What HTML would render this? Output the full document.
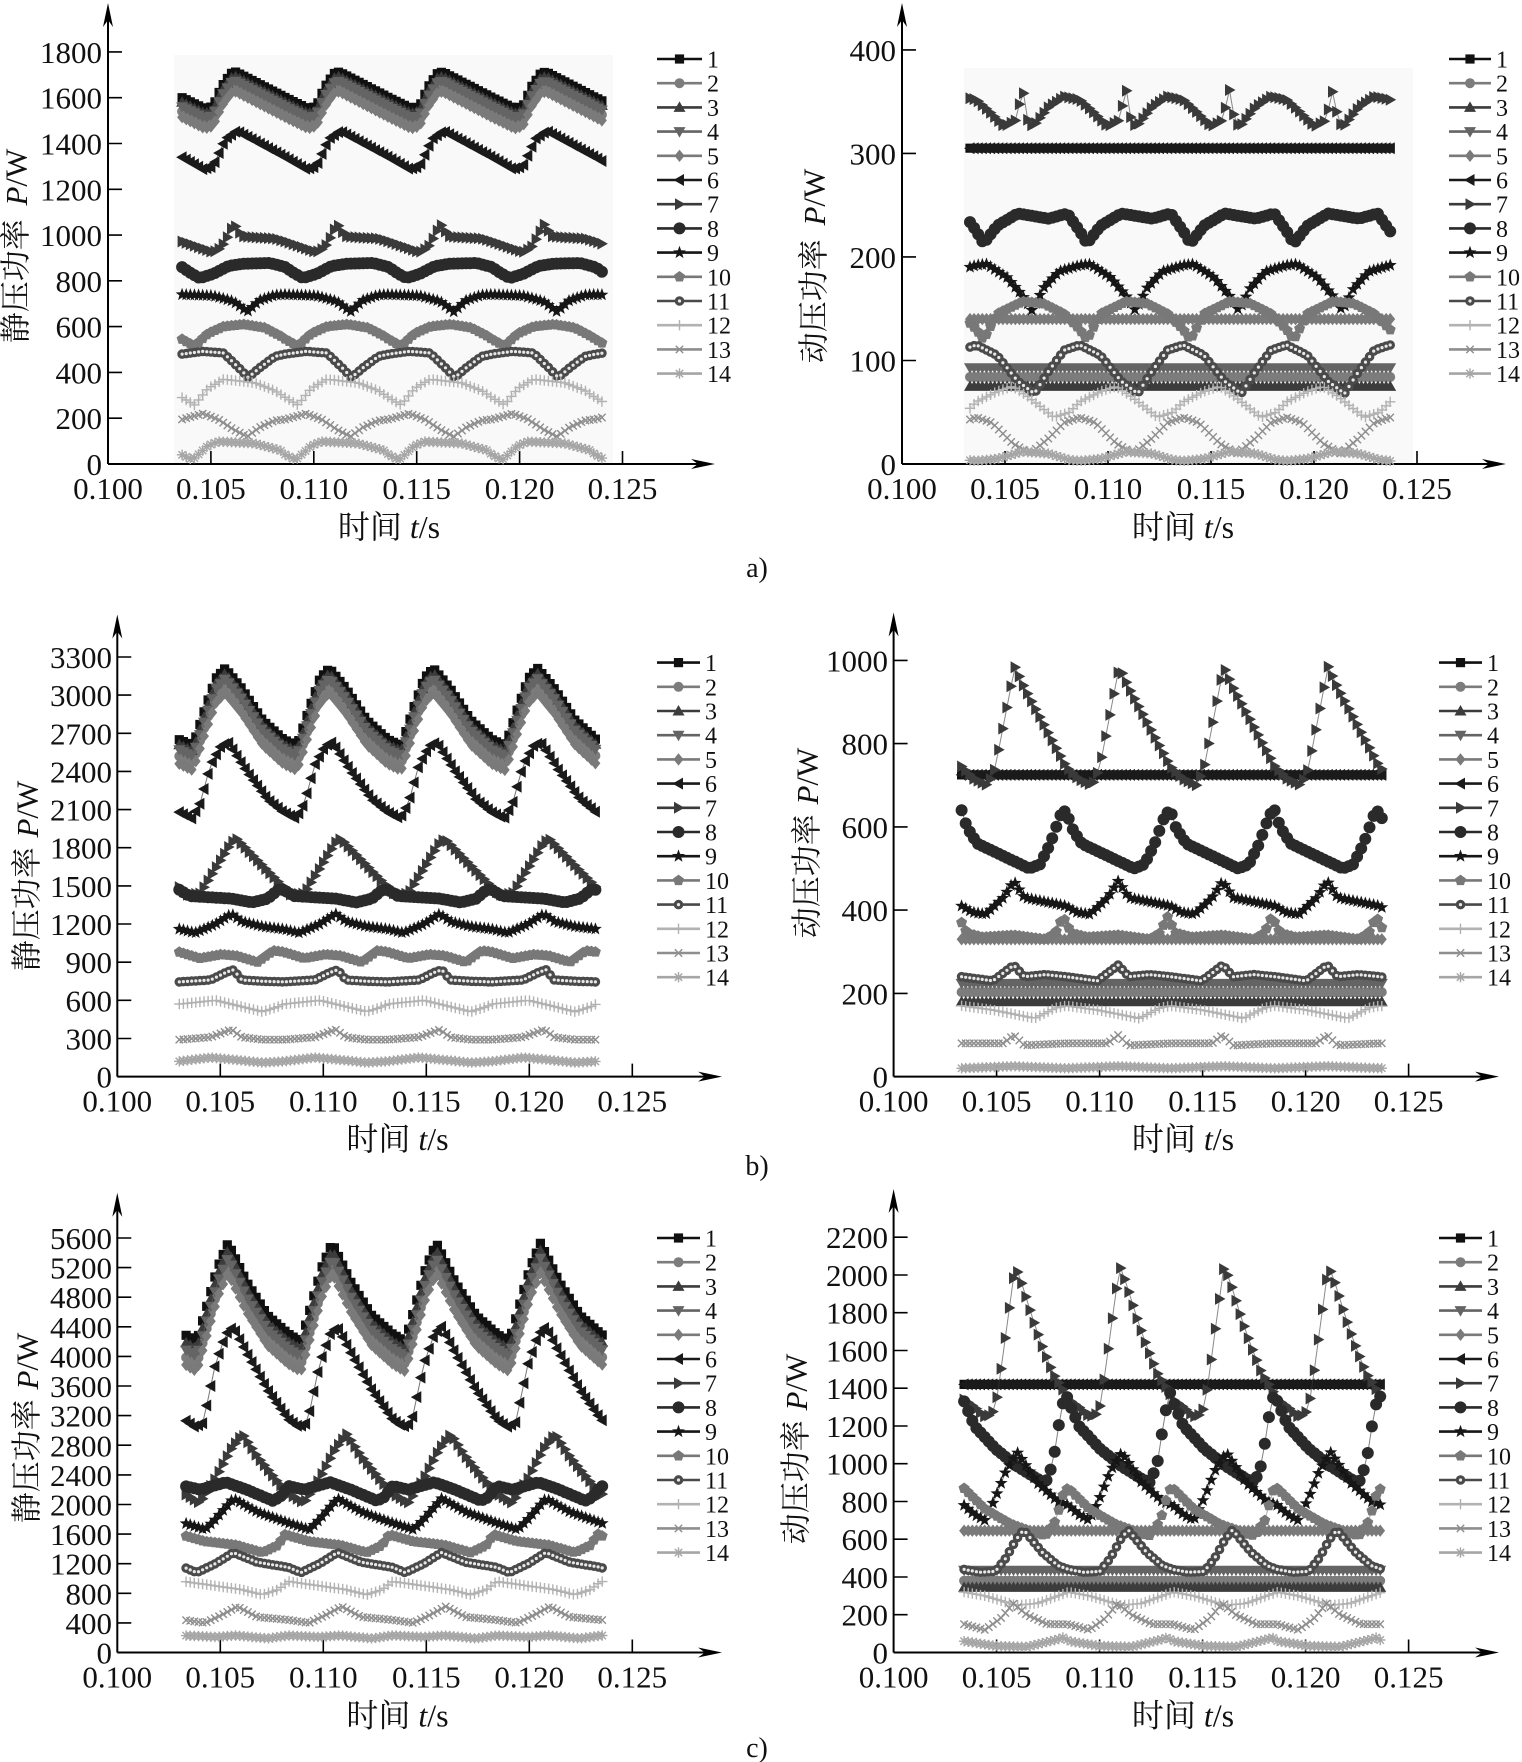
<!DOCTYPE html>
<html><head><meta charset="utf-8">
<style>
html,body{margin:0;padding:0;background:#fff;}
svg{display:block;}
text{font-family:"Liberation Serif","Noto Serif CJK SC","Noto Sans CJK SC",serif;fill:#111;}
.tk{font-size:31px;}
.lg{font-size:24px;}
.tt{font-size:31px;}
.xt{font-size:32px;}
.ml{font-size:28px;}
</style></head><body>
<svg id="fig" width="1522" height="1762" viewBox="0 0 1522 1762" xmlns="http://www.w3.org/2000/svg">
<g id="data"></g>

<!-- ===== Panel A-left ===== -->
<g class="tk" text-anchor="end">
<text x="102" y="475">0</text><text x="102" y="429.2">200</text><text x="102" y="383.4">400</text><text x="102" y="337.6">600</text><text x="102" y="291.8">800</text><text x="102" y="246.1">1000</text><text x="102" y="200.3">1200</text><text x="102" y="154.5">1400</text><text x="102" y="108.7">1600</text><text x="102" y="62.9">1800</text>
</g>
<g class="tk" text-anchor="middle">
<text x="108" y="499">0.100</text><text x="210.9" y="499">0.105</text><text x="313.8" y="499">0.110</text><text x="416.7" y="499">0.115</text><text x="519.6" y="499">0.120</text><text x="622.5" y="499">0.125</text>
</g>
<text class="tt" transform="translate(16,246) rotate(-90)" text-anchor="middle" dominant-baseline="central">静压功率 <tspan font-style="italic" dx="6">P</tspan>/W</text>
<text class="xt" x="389" y="538" text-anchor="middle">时间 <tspan font-style="italic">t</tspan>/s</text>

<!-- ===== Panel A-right ===== -->
<g class="tk" text-anchor="end">
<text x="896" y="475">0</text><text x="896" y="371.5">100</text><text x="896" y="267.9">200</text><text x="896" y="164.4">300</text><text x="896" y="60.9">400</text>
</g>
<g class="tk" text-anchor="middle">
<text x="902" y="499">0.100</text><text x="1005" y="499">0.105</text><text x="1108" y="499">0.110</text><text x="1211" y="499">0.115</text><text x="1314" y="499">0.120</text><text x="1417" y="499">0.125</text>
</g>
<text class="tt" transform="translate(814,266) rotate(-90)" text-anchor="middle" dominant-baseline="central">动压功率 <tspan font-style="italic" dx="6">P</tspan>/W</text>
<text class="xt" x="1183" y="538" text-anchor="middle">时间 <tspan font-style="italic">t</tspan>/s</text>
<text class="ml" x="757" y="577" text-anchor="middle">a)</text>

<!-- ===== Panel B-left ===== -->
<g class="tk" text-anchor="end">
<text x="112" y="1087.6">0</text><text x="112" y="1049.5">300</text><text x="112" y="1011.3">600</text><text x="112" y="973.2">900</text><text x="112" y="935">1200</text><text x="112" y="896.9">1500</text><text x="112" y="858.7">1800</text><text x="112" y="820.6">2100</text><text x="112" y="782.4">2400</text><text x="112" y="744.3">2700</text><text x="112" y="706.2">3000</text><text x="112" y="668">3300</text>
</g>
<g class="tk" text-anchor="middle">
<text x="117.3" y="1111.6">0.100</text><text x="220.3" y="1111.6">0.105</text><text x="323.3" y="1111.6">0.110</text><text x="426.3" y="1111.6">0.115</text><text x="529.3" y="1111.6">0.120</text><text x="632.3" y="1111.6">0.125</text>
</g>
<text class="tt" transform="translate(27,876) rotate(-90)" text-anchor="middle" dominant-baseline="central">静压功率 <tspan font-style="italic" dx="2">P</tspan>/W</text>
<text class="xt" x="397.5" y="1150" text-anchor="middle">时间 <tspan font-style="italic">t</tspan>/s</text>

<!-- ===== Panel B-right ===== -->
<g class="tk" text-anchor="end">
<text x="888" y="1087.6">0</text><text x="888" y="1004.4">200</text><text x="888" y="921.1">400</text><text x="888" y="837.9">600</text><text x="888" y="754.6">800</text><text x="888" y="671.4">1000</text>
</g>
<g class="tk" text-anchor="middle">
<text x="893.6" y="1111.6">0.100</text><text x="996.6" y="1111.6">0.105</text><text x="1099.6" y="1111.6">0.110</text><text x="1202.6" y="1111.6">0.115</text><text x="1305.6" y="1111.6">0.120</text><text x="1408.6" y="1111.6">0.125</text>
</g>
<text class="tt" transform="translate(807,843) rotate(-90)" text-anchor="middle" dominant-baseline="central">动压功率 <tspan font-style="italic" dx="2">P</tspan>/W</text>
<text class="xt" x="1183" y="1150" text-anchor="middle">时间 <tspan font-style="italic">t</tspan>/s</text>
<text class="ml" x="757" y="1175" text-anchor="middle">b)</text>

<!-- ===== Panel C-left ===== -->
<g class="tk" text-anchor="end">
<text x="112" y="1663.5">0</text><text x="112" y="1633.9">400</text><text x="112" y="1604.3">800</text><text x="112" y="1574.7">1200</text><text x="112" y="1545.1">1600</text><text x="112" y="1515.5">2000</text><text x="112" y="1485.9">2400</text><text x="112" y="1456.3">2800</text><text x="112" y="1426.6">3200</text><text x="112" y="1397">3600</text><text x="112" y="1367.4">4000</text><text x="112" y="1337.8">4400</text><text x="112" y="1308.2">4800</text><text x="112" y="1278.6">5200</text><text x="112" y="1249">5600</text>
</g>
<g class="tk" text-anchor="middle">
<text x="117.3" y="1687.5">0.100</text><text x="220.3" y="1687.5">0.105</text><text x="323.3" y="1687.5">0.110</text><text x="426.3" y="1687.5">0.115</text><text x="529.3" y="1687.5">0.120</text><text x="632.3" y="1687.5">0.125</text>
</g>
<text class="tt" transform="translate(27,1428) rotate(-90)" text-anchor="middle" dominant-baseline="central">静压功率 <tspan font-style="italic" dx="2">P</tspan>/W</text>
<text class="xt" x="397.5" y="1726.6" text-anchor="middle">时间 <tspan font-style="italic">t</tspan>/s</text>

<!-- ===== Panel C-right ===== -->
<g class="tk" text-anchor="end">
<text x="888" y="1663.5">0</text><text x="888" y="1625.7">200</text><text x="888" y="1588">400</text><text x="888" y="1550.2">600</text><text x="888" y="1512.5">800</text><text x="888" y="1474.7">1000</text><text x="888" y="1437">1200</text><text x="888" y="1399.2">1400</text><text x="888" y="1361.5">1600</text><text x="888" y="1323.7">1800</text><text x="888" y="1286">2000</text><text x="888" y="1248.2">2200</text>
</g>
<g class="tk" text-anchor="middle">
<text x="893.6" y="1687.5">0.100</text><text x="996.6" y="1687.5">0.105</text><text x="1099.6" y="1687.5">0.110</text><text x="1202.6" y="1687.5">0.115</text><text x="1305.6" y="1687.5">0.120</text><text x="1408.6" y="1687.5">0.125</text>
</g>
<text class="tt" transform="translate(796,1449) rotate(-90)" text-anchor="middle" dominant-baseline="central">动压功率 <tspan font-style="italic" dx="2">P</tspan>/W</text>
<text class="xt" x="1183" y="1726.6" text-anchor="middle">时间 <tspan font-style="italic">t</tspan>/s</text>
<text class="ml" x="757" y="1757" text-anchor="middle">c)</text>

<!-- ===== Legends ===== -->
<g class="lg" transform="translate(707,59)">
<text y="8.5">1</text><text y="32.7">2</text><text y="56.9">3</text><text y="81.1">4</text><text y="105.3">5</text><text y="129.5">6</text><text y="153.7">7</text><text y="177.9">8</text><text y="202.1">9</text><text y="226.3">10</text><text y="250.5">11</text><text y="274.7">12</text><text y="298.9">13</text><text y="323.1">14</text>
</g>
<g class="lg" transform="translate(1496,59)">
<text y="8.5">1</text><text y="32.7">2</text><text y="56.9">3</text><text y="81.1">4</text><text y="105.3">5</text><text y="129.5">6</text><text y="153.7">7</text><text y="177.9">8</text><text y="202.1">9</text><text y="226.3">10</text><text y="250.5">11</text><text y="274.7">12</text><text y="298.9">13</text><text y="323.1">14</text>
</g>
<g class="lg" transform="translate(705,662.6)">
<text y="8.5">1</text><text y="32.7">2</text><text y="56.9">3</text><text y="81.1">4</text><text y="105.3">5</text><text y="129.5">6</text><text y="153.7">7</text><text y="177.9">8</text><text y="202.1">9</text><text y="226.3">10</text><text y="250.5">11</text><text y="274.7">12</text><text y="298.9">13</text><text y="323.1">14</text>
</g>
<g class="lg" transform="translate(1487,662.6)">
<text y="8.5">1</text><text y="32.7">2</text><text y="56.9">3</text><text y="81.1">4</text><text y="105.3">5</text><text y="129.5">6</text><text y="153.7">7</text><text y="177.9">8</text><text y="202.1">9</text><text y="226.3">10</text><text y="250.5">11</text><text y="274.7">12</text><text y="298.9">13</text><text y="323.1">14</text>
</g>
<g class="lg" transform="translate(705,1238)">
<text y="8.5">1</text><text y="32.7">2</text><text y="56.9">3</text><text y="81.1">4</text><text y="105.3">5</text><text y="129.5">6</text><text y="153.7">7</text><text y="177.9">8</text><text y="202.1">9</text><text y="226.3">10</text><text y="250.5">11</text><text y="274.7">12</text><text y="298.9">13</text><text y="323.1">14</text>
</g>
<g class="lg" transform="translate(1487,1238)">
<text y="8.5">1</text><text y="32.7">2</text><text y="56.9">3</text><text y="81.1">4</text><text y="105.3">5</text><text y="129.5">6</text><text y="153.7">7</text><text y="177.9">8</text><text y="202.1">9</text><text y="226.3">10</text><text y="250.5">11</text><text y="274.7">12</text><text y="298.9">13</text><text y="323.1">14</text>
</g>
</svg>
<script>
(function(){
var MK=['sq','ci','tu','td','di','tl','tr','cb','st','pe','cd','pl','xx','as'];
var COL=['#101010','#7c7c7c','#3c3c3c','#646464','#7a7a7a','#1a1a1a','#3a3a3a','#2a2a2a','#161616','#787878','#4a4a4a','#b2b2b2','#8e8e8e','#a6a6a6'];
function r(n){return Math.round(n*10)/10;}
function circ(x,y,s){return 'M'+r(x-s)+' '+r(y)+'a'+s+' '+s+' 0 1 0 '+(2*s)+' 0a'+s+' '+s+' 0 1 0 '+(-2*s)+' 0z';}
function poly(p){var s='M';for(var i=0;i<p.length;i++){s+=(i?'L':'')+r(p[i][0])+' '+r(p[i][1]);}return s+'z';}
function shp(t,x,y){
  var s,p,i,a,R;
  switch(t){
    case 'sq': s=4.6; return poly([[x-s,y-s],[x+s,y-s],[x+s,y+s],[x-s,y+s]]);
    case 'ci': return circ(x,y,5);
    case 'cb': return circ(x,y,6);
    case 'cd': return circ(x,y,4.8);
    case 'tu': s=6; return poly([[x,y-s],[x+s,y+s*.75],[x-s,y+s*.75]]);
    case 'td': s=6; return poly([[x,y+s],[x+s,y-s*.75],[x-s,y-s*.75]]);
    case 'di': s=6.2; return poly([[x,y-s],[x+s*.8,y],[x,y+s],[x-s*.8,y]]);
    case 'tl': s=6; return poly([[x-s,y],[x+s*.75,y-s],[x+s*.75,y+s]]);
    case 'tr': s=6; return poly([[x+s,y],[x-s*.75,y-s],[x-s*.75,y+s]]);
    case 'st': p=[]; for(i=0;i<10;i++){a=-Math.PI/2+i*Math.PI/5;R=i%2?2.8:6.8;p.push([x+R*Math.cos(a),y+R*Math.sin(a)]);} return poly(p);
    case 'pe': p=[]; for(i=0;i<5;i++){a=-Math.PI/2+i*2*Math.PI/5;p.push([x+5.8*Math.cos(a),y+5.8*Math.sin(a)]);} return poly(p);
  }
  return '';
}
function stk(t,x,y){
  var s=5.2,d=3.7;
  var P='M'+r(x-s)+' '+r(y)+'h'+(2*s)+'M'+r(x)+' '+r(y-s)+'v'+(2*s);
  var X='M'+r(x-d)+' '+r(y-d)+'l'+(2*d)+' '+(2*d)+'M'+r(x-d)+' '+r(y+d)+'l'+(2*d)+' '+(-2*d);
  if(t==='pl')return P; if(t==='xx')return X; return P+X;
}
function isS(t){return t==='pl'||t==='xx'||t==='as';}
function interp(k,ph){
  ph-=Math.floor(ph);
  var n=k.length; if(n===1)return k[0][1];
  for(var i=0;i<n;i++){
    var a=k[i], b=(i+1<n)?k[i+1]:[k[0][0]+1,k[0][1]];
    if(ph>=a[0]&&ph<b[0])return a[1]+(b[1]-a[1])*(ph-a[0])/(b[0]-a[0]);
  }
  var a2=k[n-1],b2=k[0],pa=a2[0]-1;
  return a2[1]+(b2[1]-a2[1])*(ph-pa)/(b2[0]-pa);
}
var PANELS=[
 {xa:108,xs:20580,ya:464,ys:0.22894,t0:0.1036,per:0.00502,ts:0.1036,te:0.1240,xend:715,ytop:3,tstep:200,tmax:1800,
  bg:[174,55,613,464],leg:[657,702,59],
  S:[
   [[0,1600],[0.22,1551],[0.3,1562],[0.38,1645],[0.47,1705],[0.52,1712]],
   -60,-20,-40,-85,
   [[0,1340],[0.2,1288],[0.3,1300],[0.42,1420],[0.53,1455]],
   [[0,972],[0.3,925],[0.38,945],[0.45,1000],[0.5,1050],[0.58,995],[0.7,990],[0.9,985]],
   [[0,860],[0.08,835],[0.17,812],[0.3,830],[0.45,865],[0.6,875],[0.85,878]],
   [[0,740],[0.3,735],[0.5,710],[0.63,665],[0.75,715],[0.9,738]],
   [[0,545],[0.12,515],[0.25,570],[0.4,600],[0.6,610],[0.8,595],[0.95,560]],
   [[0,480],[0.2,492],[0.4,485],[0.55,420],[0.64,378],[0.75,420],[0.9,470]],
   [[0,290],[0.12,258],[0.25,330],[0.4,370],[0.7,355],[0.9,320]],
   [[0,195],[0.2,220],[0.35,195],[0.5,150],[0.63,120],[0.75,160],[0.9,190]],
   [[0,40],[0.1,18],[0.25,80],[0.35,98],[0.7,90],[0.95,60]]
  ]},
 {xa:902,xs:20600,ya:464,ys:1.0353,t0:0.10361,per:0.00502,ts:0.1033,te:0.12377,xend:1506,ytop:3,tstep:100,tmax:400,
  bg:[964,68,1413,464],leg:[1449,1491,59],
  S:[
   [[0,305]],[[0,84]],[[0,75]],[[0,93]],[[0,140]],[[0,305]],
   [[0,352],[0.13,340],[0.27,326],[0.38,332],[0.45,362],[0.5,330],[0.55,326],[0.7,345],[0.85,355]],
   [[0,225],[0.07,213],[0.2,230],[0.4,242],[0.7,237],[0.88,242],[0.95,232]],
   [[0,192],[0.1,193],[0.3,180],[0.45,162],[0.54,148],[0.65,170],[0.8,186]],
   [[0,130],[0.07,120],[0.2,145],[0.45,157],[0.65,155],[0.85,145]],
   [[0,115],[0.2,105],[0.4,80],[0.56,68],[0.7,90],[0.85,110]],
   [[0,60],[0.2,70],[0.35,75],[0.5,65],[0.75,45],[0.9,50]],
   [[0,45],[0.15,40],[0.35,20],[0.52,10],[0.7,25],[0.85,40]],
   [[0,3],[0.2,5],[0.45,12],[0.7,10],[0.9,4]]
  ]},
 {xa:117.3,xs:20600,ya:1076.6,ys:0.12715,t0:0.10301,per:0.005057,ts:0.10301,te:0.12336,xend:722,ytop:614.5,tstep:300,tmax:3300,
  bg:null,leg:[657,700,662.6],
  S:[
   [[0,2650],[0.13,2600],[0.25,2900],[0.35,3130],[0.44,3210],[0.6,3050],[0.8,2800]],
   -130,-40,-80,-190,
   [[0,2080],[0.12,2030],[0.2,2150],[0.3,2450],[0.4,2600],[0.47,2630],[0.65,2400],[0.85,2180]],
   [[0,1490],[0.07,1430],[0.2,1440],[0.35,1640],[0.5,1840],[0.55,1870],[0.75,1700]],
   [[0,1470],[0.1,1420],[0.3,1410],[0.5,1400],[0.7,1370],[0.85,1400],[0.95,1470]],
   [[0,1160],[0.15,1130],[0.35,1200],[0.5,1280],[0.6,1220],[0.8,1180]],
   [[0,980],[0.2,930],[0.4,960],[0.55,950],[0.75,900],[0.9,990]],
   [[0,745],[0.3,760],[0.45,820],[0.52,840],[0.6,760],[0.8,750]],
   [[0,570],[0.35,600],[0.55,560],[0.8,510],[0.95,550]],
   [[0,290],[0.3,310],[0.5,370],[0.6,310],[0.8,290]],
   [[0,120],[0.3,150],[0.5,135],[0.8,110]]
  ]},
 {xa:893.6,xs:20600,ya:1076.6,ys:0.4162,t0:0.1033,per:0.00507,ts:0.1033,te:0.12382,xend:1499,ytop:612.5,tstep:200,tmax:1000,
  bg:null,leg:[1439,1482,662.6],
  S:[
   [[0,725]],[[0,203]],[[0,180]],[[0,224]],[[0,330]],[[0,725]],
   [[0,745],[0.12,715],[0.25,700],[0.32,740],[0.51,985],[0.6,935],[0.8,840]],
   [[0,640],[0.05,600],[0.15,560],[0.4,530],[0.65,500],[0.75,510],[0.85,560],[0.95,630]],
   [[0,410],[0.1,395],[0.23,390],[0.4,430],[0.5,470],[0.6,430],[0.8,420]],
   [[0,370],[0.05,345],[0.2,335],[0.5,340],[0.8,330],[0.9,345],[0.97,385]],
   [[0,240],[0.3,230],[0.5,268],[0.6,240],[0.8,245]],
   [[0,170],[0.3,160],[0.5,150],[0.7,140],[0.9,165]],
   [[0,80],[0.4,80],[0.5,100],[0.6,75]],
   [[0,20],[0.5,25]]
  ]},
 {xa:117.3,xs:20600,ya:1652.5,ys:0.07402,t0:0.10325,per:0.005057,ts:0.10334,te:0.12359,xend:722,ytop:1192.7,tstep:400,tmax:5600,
  bg:null,leg:[657,700,1238],
  S:[
   [[0,4300],[0.12,4200],[0.2,4600],[0.32,5200],[0.42,5530],[0.6,5000],[0.8,4550]],
   -300,-100,-200,-400,
   [[0,3150],[0.1,3050],[0.18,3100],[0.3,3900],[0.4,4300],[0.47,4400],[0.6,4050],[0.8,3550]],
   [[0,2150],[0.15,2020],[0.3,2350],[0.45,2750],[0.56,2950],[0.7,2650],[0.9,2300]],
   [[0,2250],[0.15,2200],[0.4,2300],[0.6,2200],[0.85,2050],[0.92,2100]],
   [[0,1750],[0.2,1660],[0.3,1800],[0.47,2080],[0.7,1900]],
   [[0,1580],[0.2,1500],[0.5,1450],[0.75,1350],[0.9,1450],[0.97,1600]],
   [[0,1150],[0.12,1080],[0.3,1200],[0.47,1350],[0.7,1220]],
   [[0,960],[0.3,900],[0.55,850],[0.75,780],[0.9,850]],
   [[0,440],[0.2,400],[0.35,500],[0.51,620],[0.7,480]],
   [[0,230],[0.3,210],[0.5,230],[0.8,190]]
  ]},
 {xa:893.6,xs:20600,ya:1652.5,ys:0.18877,t0:0.10342,per:0.00507,ts:0.10342,te:0.1237,xend:1499,ytop:1189,tstep:200,tmax:2200,
  bg:null,leg:[1439,1482,1238],
  S:[
   [[0,1420]],[[0,380]],[[0,345]],[[0,436]],[[0,645]],[[0,1420]],
   [[0,1340],[0.1,1300],[0.2,1250],[0.26,1260],[0.3,1300],[0.33,1400],[0.41,1730],[0.49,2050],[0.55,1960],[0.65,1780],[0.75,1620],[0.85,1480],[0.93,1410]],
   [[0,1330],[0.1,1200],[0.3,1080],[0.5,990],[0.7,920],[0.78,900],[0.85,1000],[0.92,1250],[0.97,1380]],
   [[0,780],[0.1,730],[0.2,700],[0.3,820],[0.4,960],[0.51,1060],[0.7,900],[0.9,800]],
   [[0,870],[0.2,760],[0.45,680],[0.7,630],[0.78,620],[0.88,700],[0.96,860]],
   [[0,440],[0.15,425],[0.3,430],[0.4,500],[0.5,600],[0.57,650],[0.75,530],[0.9,460]],
   [[0,320],[0.2,300],[0.5,250],[0.7,260],[0.9,300]],
   [[0,150],[0.2,120],[0.35,180],[0.47,260],[0.6,200],[0.8,150]],
   [[0,60],[0.3,35],[0.6,30],[0.9,70],[0.95,80]]
  ]}
];
var DT=0.0002;
var out='';
function markerPath(t,pts,c){
  var d='',i,s='';
  if(isS(t)){
    for(i=0;i<pts.length;i++)d+=stk(t,pts[i][0],pts[i][1]);
    return '<path d="'+d+'" stroke="'+c+'" stroke-width="1.4" fill="none"/>';
  }
  for(i=0;i<pts.length;i++)d+=shp(t,pts[i][0],pts[i][1]);
  s='<path d="'+d+'" fill="'+c+'"/>';
  if(t==='cd'){
    var w='';for(i=0;i<pts.length;i++)w+=circ(pts[i][0],pts[i][1],1.6);
    s+='<path d="'+w+'" fill="#e8e8e8"/>';
  }
  return s;
}
PANELS.forEach(function(p){
  if(p.bg){out+='<rect x="'+p.bg[0]+'" y="'+p.bg[1]+'" width="'+(p.bg[2]-p.bg[0])+'" height="'+(p.bg[3]-p.bg[1])+'" fill="#f9f9f9"/>';}
  out+='<path d="M'+p.xa+' '+p.ya+'H'+(p.xend-10)+'M'+p.xa+' '+p.ya+'V'+(p.ytop+10)+'" stroke="#000" stroke-width="2" fill="none"/>';
  out+='<path d="M'+p.xend+' '+p.ya+'L'+(p.xend-24)+' '+(p.ya-5)+'L'+(p.xend-17)+' '+p.ya+'L'+(p.xend-24)+' '+(p.ya+5)+'z" fill="#000"/>';
  out+='<path d="M'+p.xa+' '+p.ytop+'L'+(p.xa-5)+' '+(p.ytop+24)+'L'+p.xa+' '+(p.ytop+17)+'L'+(p.xa+5)+' '+(p.ytop+24)+'z" fill="#000"/>';
  var tk='';
  for(var j=1;j<=5;j++){var x=p.xa+0.005*j*p.xs;tk+='M'+r(x)+' '+p.ya+'V'+r(p.ya-13);}
  for(var v=p.tstep;v<=p.tmax+1e-6;v+=p.tstep){var y=p.ya-v*p.ys;tk+='M'+p.xa+' '+r(y)+'H'+r(p.xa+14);}
  out+='<path d="'+tk+'" stroke="#000" stroke-width="1.6" fill="none"/>';
  for(var i=0;i<14;i++){
    var sp=p.S[i], k=(typeof sp==='number')?p.S[0]:sp, off=(typeof sp==='number')?sp:0;
    var pts=[];
    for(var t=p.ts;t<=p.te+1e-9;t+=DT){
      var val=interp(k,(t-p.t0)/p.per)+off;
      pts.push([p.xa+(t-0.1)*p.xs,p.ya-val*p.ys]);
    }
    var ld='M';
    for(var q=0;q<pts.length;q++)ld+=(q?'L':'')+r(pts[q][0])+' '+r(pts[q][1]);
    out+='<path d="'+ld+'" stroke="'+COL[i]+'" stroke-opacity="0.6" stroke-width="1" fill="none"/>';
    out+=markerPath(MK[i],pts,COL[i]);
  }
  var L=p.leg;
  for(var m=0;m<14;m++){
    var yy=L[2]+m*24.2, xm=(L[0]+L[1])/2;
    out+='<path d="M'+L[0]+' '+r(yy)+'H'+L[1]+'" stroke="'+COL[m]+'" stroke-width="2.6"/>';
    out+=markerPath(MK[m],[[xm,yy]],COL[m]);
  }
});
document.getElementById('data').innerHTML=out;
})();
</script>
</body></html>
